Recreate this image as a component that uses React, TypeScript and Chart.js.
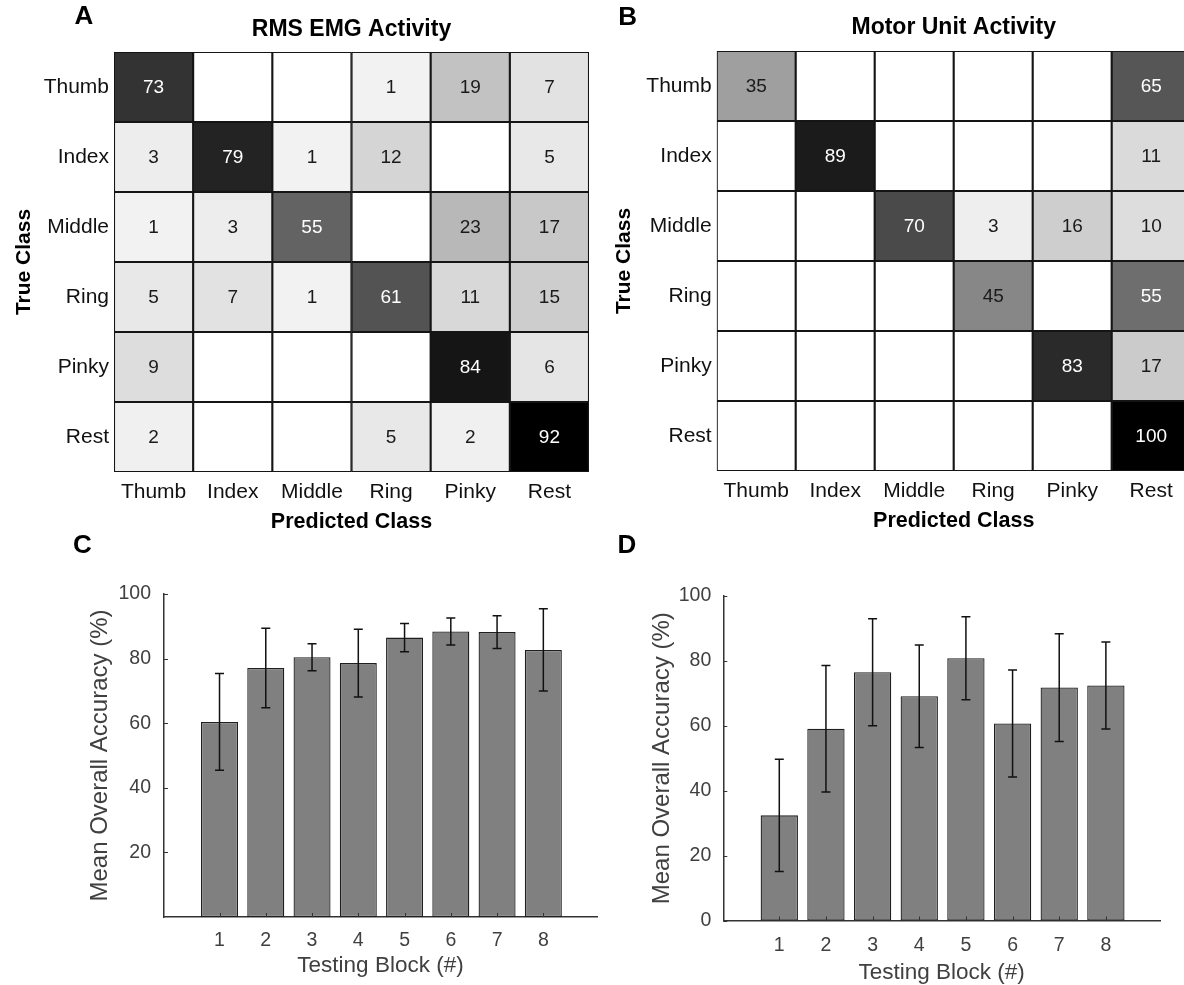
import React, { useEffect, useRef } from "react";
import { Chart, registerables } from "chart.js";

Chart.register(...registerables);

// ---------------- DATA ----------------
const CLASS_LABELS = ["Thumb", "Index", "Middle", "Ring", "Pinky", "Rest"];

// Panel A: RMS EMG activity (rows = true class, columns = predicted class)
const RMS_THUMB = [73, 0, 0, 1, 19, 7];
const RMS_INDEX = [3, 79, 1, 12, 0, 5];
const RMS_MIDDLE = [1, 3, 55, 0, 23, 17];
const RMS_RING = [5, 7, 1, 61, 11, 15];
const RMS_PINKY = [9, 0, 0, 0, 84, 6];
const RMS_REST = [2, 0, 0, 5, 2, 92];
const RMS_MATRIX = [RMS_THUMB, RMS_INDEX, RMS_MIDDLE, RMS_RING, RMS_PINKY, RMS_REST];

// Panel B: Motor unit activity
const MU_THUMB = [35, 0, 0, 0, 0, 65];
const MU_INDEX = [0, 89, 0, 0, 0, 11];
const MU_MIDDLE = [0, 0, 70, 3, 16, 10];
const MU_RING = [0, 0, 0, 45, 0, 55];
const MU_PINKY = [0, 0, 0, 0, 83, 17];
const MU_REST = [0, 0, 0, 0, 0, 100];
const MU_MATRIX = [MU_THUMB, MU_INDEX, MU_MIDDLE, MU_RING, MU_PINKY, MU_REST];

// Panels C & D: mean overall accuracy per testing block
const BLOCKS = [1, 2, 3, 4, 5, 6, 7, 8];
const RMS_MEAN = [60.4, 77.1, 80.4, 78.6, 86.5, 88.4, 88.2, 82.7];
const RMS_SD = [15.0, 12.3, 4.2, 10.5, 4.4, 4.2, 5.1, 12.7];
const MU_MEAN = [32.4, 59.1, 76.5, 69.1, 80.8, 60.7, 71.8, 72.4];
const MU_SD = [17.3, 19.5, 16.5, 15.8, 12.8, 16.5, 16.6, 13.4];

const C_Y_TICKS = [20, 40, 60, 80, 100];
const D_Y_TICKS = [0, 20, 40, 60, 80, 100];

// ---------------- STYLE HELPERS ----------------
const FONT = '"Liberation Sans", Arial, Helvetica, sans-serif';

function cellGray(v: number, max: number) {
  if (!v) return 255;
  return Math.round(245 * (1 - v / max));
}
function cellColor(v: number, max: number) {
  const g = cellGray(v, max);
  return `rgb(${g},${g},${g})`;
}
function cellTextColor(v: number, max: number) {
  return cellGray(v, max) < 120 ? "#ffffff" : "#1a1a1a";
}

// ---------------- PLUGINS ----------------
const panelText = {
  id: "panelText",
  afterDraw(chart: any, _args: any, opts: any) {
    const ctx = chart.ctx;
    ctx.save();
    for (const t of opts.items || []) {
      ctx.font = t.font;
      ctx.fillStyle = t.color || "#000";
      ctx.textAlign = "center";
      ctx.textBaseline = "middle";
      const x =
        t.x === "center" ? (chart.chartArea.left + chart.chartArea.right) / 2 : t.x;
      ctx.fillText(t.text, x, t.y);
    }
    ctx.restore();
  },
};

const cellLabels = {
  id: "cellLabels",
  afterDatasetsDraw(chart: any) {
    const ctx = chart.ctx;
    ctx.save();
    ctx.font = `19px ${FONT}`;
    ctx.textAlign = "center";
    ctx.textBaseline = "middle";
    chart.data.datasets.forEach((ds: any, di: number) => {
      if (!ds.values) return;
      const meta = chart.getDatasetMeta(di);
      meta.data.forEach((el: any, i: number) => {
        const v = ds.values[i];
        if (!v) return;
        const p = el.getProps(["x", "y", "base"], true);
        ctx.fillStyle = ds.textColors[i];
        ctx.fillText(String(v), p.x, (p.y + p.base) / 2 + 1);
      });
    });
    ctx.restore();
  },
};

const errorBars = {
  id: "errorBars",
  afterDatasetsDraw(chart: any) {
    const ctx = chart.ctx;
    const yScale = chart.scales.y;
    ctx.save();
    ctx.strokeStyle = "#111";
    ctx.lineWidth = 1.5;
    chart.data.datasets.forEach((ds: any, di: number) => {
      if (!ds.errors) return;
      const meta = chart.getDatasetMeta(di);
      meta.data.forEach((el: any, i: number) => {
        const m = ds.data[i].y;
        const e = ds.errors[i];
        const x = el.x;
        const yt = yScale.getPixelForValue(m + e);
        const yb = yScale.getPixelForValue(m - e);
        const cap = 4.5;
        ctx.beginPath();
        ctx.moveTo(x, yt);
        ctx.lineTo(x, yb);
        ctx.moveTo(x - cap, yt);
        ctx.lineTo(x + cap, yt);
        ctx.moveTo(x - cap, yb);
        ctx.lineTo(x + cap, yb);
        ctx.stroke();
      });
    });
    ctx.restore();
  },
};

const innerTicks = {
  id: "innerTicks",
  afterDraw(chart: any) {
    const ctx = chart.ctx;
    const { left, bottom } = chart.chartArea;
    ctx.save();
    ctx.strokeStyle = "#333";
    ctx.lineWidth = 1;
    const ys = chart.scales.y;
    ys.ticks.forEach((t: any) => {
      const p = Math.round(ys.getPixelForValue(t.value)) + 0.5;
      ctx.beginPath();
      ctx.moveTo(left, p);
      ctx.lineTo(left + 4, p);
      ctx.stroke();
    });
    const xs = chart.scales.x;
    xs.ticks.forEach((t: any) => {
      const p = Math.round(xs.getPixelForValue(t.value)) + 0.5;
      ctx.beginPath();
      ctx.moveTo(p, bottom);
      ctx.lineTo(p, bottom - 4);
      ctx.stroke();
    });
    ctx.restore();
  },
};

// ---------------- CONFIG BUILDERS ----------------
function matrixConfig(
  matrix: number[][],
  p: {
    padTop: number;
    padRight: number;
    padBottom: number;
    yWidth: number;
    yTitlePad: number;
    letter: string;
    letterX: number;
    letterY: number;
    title: string;
    titleY: number;
  }
) {
  const max = Math.max(...matrix.map((r) => Math.max(...r)));
  const datasets = matrix.map((row, r) => ({
    label: CLASS_LABELS[r],
    data: row.map(() => [r, r + 1]),
    values: row,
    textColors: row.map((v) => cellTextColor(v, max)),
    backgroundColor: row.map((v) => cellColor(v, max)),
    borderColor: "#151515",
    borderWidth: 1.4,
    borderSkipped: false,
    grouped: false,
    barPercentage: 1,
    categoryPercentage: 1,
  }));
  return {
    type: "bar",
    data: { labels: CLASS_LABELS, datasets },
    plugins: [cellLabels, panelText],
    options: {
      animation: false,
      responsive: false,
      maintainAspectRatio: false,
      layout: { padding: { left: 0, top: p.padTop, right: p.padRight, bottom: p.padBottom } },
      plugins: {
        legend: { display: false },
        tooltip: { enabled: false },
        panelText: {
          items: [
            { text: p.letter, x: p.letterX, y: p.letterY, font: `bold 26px ${FONT}`, color: "#000" },
            { text: p.title, x: "center", y: p.titleY, font: `bold 23px ${FONT}`, color: "#000" },
          ],
        },
      },
      scales: {
        x: {
          type: "category",
          offset: true,
          grid: { display: false, drawTicks: false },
          border: { display: false },
          ticks: {
            padding: 8,
            color: "#111",
            font: { family: FONT, size: 21 },
            maxRotation: 0,
            autoSkip: false,
          },
          title: {
            display: true,
            text: "Predicted Class",
            color: "#000",
            font: { family: FONT, size: 21.5, weight: "bold" },
            padding: { top: 0, bottom: 0 },
          },
          afterFit: (s: any) => {
            s.height = 63;
          },
        },
        y: {
          type: "linear",
          min: 0,
          max: 6,
          reverse: true,
          afterBuildTicks: (s: any) => {
            s.ticks = CLASS_LABELS.map((_, i) => ({ value: i + 0.5 }));
          },
          grid: { display: false, drawTicks: false },
          border: { display: false },
          ticks: {
            padding: 5,
            color: "#111",
            font: { family: FONT, size: 21 },
            autoSkip: false,
            callback: (v: any) => CLASS_LABELS[Math.floor(Number(v))],
          },
          title: {
            display: true,
            text: "True Class",
            color: "#000",
            font: { family: FONT, size: 21, weight: "bold" },
            padding: { top: p.yTitlePad, bottom: 0 },
          },
          afterFit: (s: any) => {
            s.width = p.yWidth;
          },
        },
      },
    },
  };
}

function barConfig(
  means: number[],
  sds: number[],
  yTicks: number[],
  p: {
    padTop: number;
    padRight: number;
    padBottom: number;
    yWidth: number;
    yTitlePad: number;
    xHeight: number;
    xTickPad: number;
    yTickPad: number;
    letter: string;
    letterX: number;
    letterY: number;
  }
) {
  const gray = "#404040";
  return {
    type: "bar",
    data: {
      datasets: [
        {
          label: "Mean Overall Accuracy",
          data: BLOCKS.map((b, i) => ({ x: b, y: means[i] })),
          errors: sds,
          backgroundColor: "#808080",
          borderColor: "#1f1f1f",
          borderWidth: 1.3,
          borderSkipped: false,
          barPercentage: 0.8,
          categoryPercentage: 1,
        },
      ],
    },
    plugins: [errorBars, innerTicks, panelText],
    options: {
      animation: false,
      responsive: false,
      maintainAspectRatio: false,
      layout: { padding: { left: 0, top: p.padTop, right: p.padRight, bottom: p.padBottom } },
      plugins: {
        legend: { display: false },
        tooltip: { enabled: false },
        panelText: {
          items: [{ text: p.letter, x: p.letterX, y: p.letterY, font: `bold 26px ${FONT}`, color: "#000" }],
        },
      },
      scales: {
        x: {
          type: "linear",
          offset: false,
          min: -0.2,
          max: 9.16,
          afterBuildTicks: (s: any) => {
            s.ticks = BLOCKS.map((v) => ({ value: v }));
          },
          grid: { display: false, drawTicks: false },
          border: { display: true, color: "#333", width: 1.5 },
          ticks: {
            padding: p.xTickPad,
            color: gray,
            font: { family: FONT, size: 19.5 },
            autoSkip: false,
            maxRotation: 0,
            callback: (v: any) => String(v),
          },
          title: {
            display: true,
            text: "Testing Block (#)",
            color: gray,
            font: { family: FONT, size: 22.5 },
            padding: { top: 0, bottom: 0 },
          },
          afterFit: (s: any) => {
            s.height = p.xHeight;
          },
        },
        y: {
          type: "linear",
          min: 0,
          max: 100,
          afterBuildTicks: (s: any) => {
            s.ticks = yTicks.map((v) => ({ value: v }));
          },
          grid: { display: false, drawTicks: false },
          border: { display: true, color: "#333", width: 1.5 },
          ticks: {
            padding: p.yTickPad,
            color: gray,
            font: { family: FONT, size: 19.5 },
            autoSkip: false,
          },
          title: {
            display: true,
            text: "Mean Overall Accuracy (%)",
            color: gray,
            font: { family: FONT, size: 24 },
            padding: { top: p.yTitlePad, bottom: 0 },
          },
          afterFit: (s: any) => {
            s.width = p.yWidth;
          },
        },
      },
    },
  };
}

// ---------------- COMPONENTS ----------------
function ChartCanvas(props: {
  make: () => any;
  left: number;
  top: number;
  width: number;
  height: number;
}) {
  const ref = useRef<HTMLCanvasElement | null>(null);
  useEffect(() => {
    if (!ref.current) return;
    const chart = new Chart(ref.current, props.make());
    return () => chart.destroy();
  }, []);
  return (
    <canvas
      ref={ref}
      width={props.width}
      height={props.height}
      style={{
        position: "absolute",
        left: props.left,
        top: props.top,
        width: props.width,
        height: props.height,
        display: "block",
      }}
    />
  );
}

export default function App() {
  return (
    <div
      style={{
        position: "fixed",
        left: 0,
        top: 0,
        width: 1184,
        height: 985,
        overflow: "hidden",
        background: "#ffffff",
      }}
    >
      <ChartCanvas
        left={0}
        top={0}
        width={592}
        height={545}
        make={() =>
          matrixConfig(RMS_MATRIX, {
            padTop: 52,
            padRight: 3,
            padBottom: 10,
            yWidth: 114,
            yTitlePad: 11.4,
            letter: "A",
            letterX: 84,
            letterY: 17,
            title: "RMS EMG Activity",
            titleY: 30,
          })
        }
      />
      <ChartCanvas
        left={592}
        top={0}
        width={610}
        height={545}
        make={() =>
          matrixConfig(MU_MATRIX, {
            padTop: 51,
            padRight: 11.3,
            padBottom: 11,
            yWidth: 124.7,
            yTitlePad: 19.4,
            letter: "B",
            letterX: 35.7,
            letterY: 17.5,
            title: "Motor Unit Activity",
            titleY: 28,
          })
        }
      />
      <ChartCanvas
        left={0}
        top={525}
        width={600}
        height={460}
        make={() =>
          barConfig(RMS_MEAN, RMS_SD, C_Y_TICKS, {
            padTop: 69,
            padRight: 3,
            padBottom: 5.5,
            yWidth: 164,
            yTitlePad: 85.5,
            xHeight: 62.5,
            xTickPad: 11.8,
            yTickPad: 13,
            letter: "C",
            letterX: 82.5,
            letterY: 21,
          })
        }
      />
      <ChartCanvas
        left={592}
        top={525}
        width={592}
        height={462}
        make={() =>
          barConfig(MU_MEAN, MU_SD, D_Y_TICKS, {
            padTop: 71,
            padRight: 24,
            padBottom: 1,
            yWidth: 131.3,
            yTitlePad: 56,
            xHeight: 65.5,
            xTickPad: 13.6,
            yTickPad: 12,
            letter: "D",
            letterX: 35,
            letterY: 21,
          })
        }
      />
    </div>
  );
}
